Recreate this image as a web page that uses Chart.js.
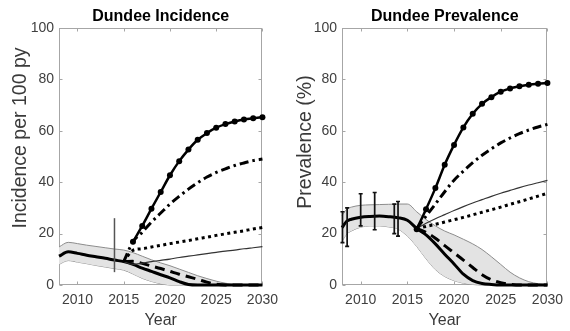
<!DOCTYPE html>
<html><head><meta charset="utf-8">
<script src="https://cdn.jsdelivr.net/npm/chart.js@4.4.1/dist/chart.umd.min.js"></script>
<style>
html,body{margin:0;padding:0;background:#fff;width:570px;height:331px;overflow:hidden}
canvas{position:absolute;top:0}
#c1{left:0}
#c2{left:285px}
</style></head><body>
<canvas id="c1" width="285" height="331"></canvas>
<canvas id="c2" width="285" height="331"></canvas>
<script>
// ---------- shared ticks ----------
const xTickValues = [2010, 2015, 2020, 2025, 2030];
const yTickValues = [0, 20, 40, 60, 80, 100];

// ---------- Incidence ----------
const incYears = [2008,2009,2010,2011,2012,2013,2014,2015,2016,2017,2018,2019,2020,2021,2022,2023,2024,2025,2026,2027,2028,2029,2030];
const incBase  = [11.2,12.9,12.3,11.6,11.0,10.4,9.7,9.1,8.0,6.6,5.3,4.0,2.8,1.3,0.2,0,0,0,0,0,0,0,0];
const incUpper = [14.8,16.6,16.1,15.5,15.0,14.5,14.0,13.6,12.6,11.2,9.8,8.6,7.5,6.2,4.9,3.6,2.5,1.5,0.7,0.2,0,0,0];
const incLower = [8.0,9.5,8.9,8.3,7.6,7.0,6.4,5.8,4.3,2.6,1.4,0.5,0,0,0,0,0,0,0,0,0,0,0];
const incScenYears = [2015,2016,2017,2018,2019,2020,2021,2022,2023,2024,2025,2026,2027,2028,2029,2030];
const incDashed  = [9.1,9.2,8.4,7.4,6.4,5.3,4.2,3.2,2.2,1.1,0.3,0,0,0,0,0];
const incThin    = [9.1,8.0,8.5,9.1,9.6,10.1,10.7,11.2,11.7,12.2,12.7,13.2,13.6,14.1,14.5,14.9];
const incDotted  = [9.1,13.5,14.1,14.8,15.4,16.1,16.7,17.3,18.0,18.6,19.3,19.9,20.5,21.1,21.8,22.4];
const incDashDot = [9.1,16.8,20.5,24.5,28.0,31.5,34.5,37.3,39.8,42.0,43.8,45.2,46.5,47.5,48.4,49.0];
const incMarkYears = [2016,2017,2018,2019,2020,2021,2022,2023,2024,2025,2026,2027,2028,2029,2030];
const incMarked  = [16.8,23.0,29.7,36.2,42.7,48.2,52.7,56.5,59.1,61.2,62.6,63.6,64.4,64.9,65.3];
const incErrX  = [2014];
const incErrLo = [5];
const incErrHi = [26];

// ---------- Prevalence ----------
const prevYears = [2008,2008.5,2009,2010,2011,2012,2013,2014,2015,2016,2017,2018,2019,2020,2021,2022,2023,2024,2025,2026,2027,2028,2029,2030];
const prevBase  = [22.3,24.8,25.6,26.4,26.7,26.8,26.6,26.2,25.2,22.0,19.5,16.0,12.0,8.2,4.2,1.7,0.6,0.2,0,0,0,0,0,0];
const prevUpper = [27.0,29.5,30.3,31.0,31.2,31.3,31.4,31.5,31.5,28.5,25.5,23.0,21.0,19.5,17.8,16.0,13.8,11.0,8.0,5.0,2.8,1.3,0.5,0.2];
const prevLower = [17.0,19.8,21.0,22.5,23.0,23.0,22.6,21.8,19.0,15.0,10.2,6.0,3.3,1.7,0.7,0.2,0,0,0,0,0,0,0,0];
const prevScenYears = [2016,2017,2018,2019,2020,2021,2022,2023,2024,2025,2026,2027,2028,2029,2030];
const prevDashed  = [22.0,20.5,18.2,15.3,12.5,9.7,6.8,4.0,2.0,0.9,0.3,0,0,0,0];
const prevThin    = [22.0,24.0,25.8,27.4,29.0,30.5,31.9,33.2,34.5,35.7,36.8,37.9,38.9,39.8,40.7];
const prevDotted  = [22.0,22.8,23.6,24.5,25.4,26.3,27.3,28.3,29.3,30.3,31.4,32.4,33.5,34.6,35.7];
const prevDashDot = [22.0,26.8,31.5,36.3,40.8,44.3,47.6,50.5,53.0,55.3,57.2,58.9,60.3,61.5,62.5];
const prevMarked  = [21.7,29.5,37.7,46.8,54.5,61.3,66.6,70.5,73.1,75.2,76.5,77.3,77.9,78.3,78.6];
const prevErrX  = [2008.05,2008.55,2010,2011.5,2013.6,2014.0];
const prevErrLo = [16.5,15.0,23.0,21.5,20.0,19.0];
const prevErrHi = [28.5,30.0,35.5,36.0,31.5,32.5];

const FONT = '"Liberation Sans", Arial, sans-serif';

function pts(xs, ys) { return xs.map((x, i) => ({ x: x, y: ys[i] })); }

const matlabPlugin = {
  id: 'matlab',
  beforeDatasetsDraw(chart, args, o) {
    const ctx = chart.ctx, a = chart.chartArea, xs = chart.scales.x, ys = chart.scales.y;
    ctx.save();
    ctx.strokeStyle = '#a6a6a6';
    ctx.lineWidth = 1;
    const L = Math.round(a.left) + 0.5, R = Math.round(a.right) - 0.5;
    const T = Math.round(a.top) + 0.5, B = Math.round(a.bottom) - 0.5;
    ctx.strokeRect(L, T, R - L, B - T);
    ctx.beginPath();
    const tl = 3;
    xs.ticks.forEach(t => {
      const px = Math.round(xs.getPixelForValue(t.value)) + 0.5;
      ctx.moveTo(px, B); ctx.lineTo(px, B - tl);
      ctx.moveTo(px, T); ctx.lineTo(px, T + tl);
    });
    ys.ticks.forEach(t => {
      const py = Math.round(ys.getPixelForValue(t.value)) + 0.5;
      ctx.moveTo(L, py); ctx.lineTo(L + tl, py);
      ctx.moveTo(R, py); ctx.lineTo(R - tl, py);
    });
    ctx.stroke();
    ctx.restore();
  },
  afterDatasetsDraw(chart, args, o) {
    const ctx = chart.ctx, xs = chart.scales.x, ys = chart.scales.y;
    ctx.save();
    ctx.strokeStyle = o.errColor;
    ctx.lineWidth = o.errWidth;
    ctx.beginPath();
    o.errX.forEach((xv, i) => {
      const px = xs.getPixelForValue(xv);
      const p1 = ys.getPixelForValue(o.errLo[i]), p2 = ys.getPixelForValue(o.errHi[i]);
      ctx.moveTo(px, p1); ctx.lineTo(px, p2);
      if (o.cap > 0) {
        ctx.moveTo(px - o.cap, p1); ctx.lineTo(px + o.cap, p1);
        ctx.moveTo(px - o.cap, p2); ctx.lineTo(px + o.cap, p2);
      }
    });
    ctx.stroke();
    ctx.restore();
  },
  afterDraw(chart, args, o) {
    const ctx = chart.ctx, a = chart.chartArea;
    const cx = (a.left + a.right) / 2;
    ctx.save();
    ctx.fillStyle = '#000';
    ctx.font = 'bold 16px ' + FONT;
    ctx.textAlign = 'center';
    ctx.textBaseline = 'alphabetic';
    ctx.fillText(o.title, cx, 21);
    ctx.fillStyle = '#3a3a3a';
    ctx.font = '16px ' + FONT;
    ctx.fillText(o.xTitle, cx, 325);
    ctx.translate(o.yTitleX, o.yTitleY);
    ctx.rotate(-Math.PI / 2);
    ctx.font = '19.5px ' + FONT;
    ctx.fillText(o.yTitle, 0, 0);
    ctx.restore();
  }
};

function lineDs(data, opts) {
  return Object.assign({
    data: data, borderColor: '#000', backgroundColor: '#000', borderWidth: 3,
    pointRadius: 0, fill: false, cubicInterpolationMode: 'monotone', clip: false,
    borderCapStyle: 'butt', borderJoinStyle: 'round'
  }, opts || {});
}

function makeChart(id, d) {
  const datasets = [
    lineDs(pts(d.markYears, d.marked), { borderWidth: 2.5, pointRadius: 3, pointBackgroundColor: '#000', pointBorderColor: '#000', pointBorderWidth: 0 }),
    lineDs(pts(d.scenYears, d.dashDot), { borderDash: [9, 4, 2.5, 4] }),
    lineDs(pts(d.scenYears, d.dotted), { borderDash: [3, 3.5] }),
    lineDs(pts(d.scenYears, d.thin), { borderWidth: 1.2, borderColor: '#333' }),
    lineDs(pts(d.scenYears, d.dashed), { borderDash: [10, 6] }),
    lineDs(pts(d.years, d.base), { borderWidth: 3 }),
    lineDs(pts(d.years, d.upper), { borderWidth: 1, borderColor: '#8c8c8c', fill: '+1', backgroundColor: '#e3e3e3' }),
    lineDs(pts(d.years, d.lower), { borderWidth: 1, borderColor: '#8c8c8c' })
  ];
  return new Chart(document.getElementById(id), {
    type: 'line',
    data: { datasets: datasets },
    options: {
      responsive: false, animation: false, devicePixelRatio: 1,
      layout: { padding: { left: 0, right: d.padRight, top: 28, bottom: 0 } },
      plugins: {
        legend: { display: false }, tooltip: { enabled: false }, title: { display: false },
        matlab: {
          title: d.title, xTitle: 'Year', yTitle: d.yTitle, yTitleX: 25.5, yTitleY: d.yTitleY,
          errX: d.errX, errLo: d.errLo, errHi: d.errHi, errColor: d.errColor, errWidth: d.errWidth, cap: d.cap
        }
      },
      scales: {
        x: {
          type: 'linear', min: 2008, max: 2030,
          grid: { display: false, drawTicks: false }, border: { display: false },
          afterBuildTicks: s => { s.ticks = xTickValues.map(v => ({ value: v })); },
          afterFit: s => { s.height = 46; },
          ticks: { font: { family: FONT, size: 14 }, color: '#404040', padding: 7, maxRotation: 0, autoSkip: false, callback: v => String(v) }
        },
        y: {
          type: 'linear', min: 0, max: 100,
          grid: { display: false, drawTicks: false }, border: { display: false },
          afterBuildTicks: s => { s.ticks = yTickValues.map(v => ({ value: v })); },
          afterFit: s => { s.width = d.yAxisWidth; },
          ticks: { font: { family: FONT, size: 14 }, color: '#404040', padding: 5, callback: v => String(v) }
        }
      }
    },
    plugins: [matlabPlugin]
  });
}

makeChart('c1', {
  title: 'Dundee Incidence', yTitle: 'Incidence per 100 py', yTitleY: 138,
  years: incYears, base: incBase, upper: incUpper, lower: incLower,
  scenYears: incScenYears, dashed: incDashed, thin: incThin, dotted: incDotted, dashDot: incDashDot,
  markYears: incMarkYears, marked: incMarked,
  errX: incErrX, errLo: incErrLo, errHi: incErrHi, errColor: '#555', errWidth: 1.5, cap: 0,
  padRight: 17, yAxisWidth: 59
});
makeChart('c2', {
  title: 'Dundee Prevalence', yTitle: 'Prevalence (%)', yTitleY: 142,
  years: prevYears, base: prevBase, upper: prevUpper, lower: prevLower,
  scenYears: prevScenYears, dashed: prevDashed, thin: prevThin, dotted: prevDotted, dashDot: prevDashDot,
  markYears: prevScenYears, marked: prevMarked,
  errX: prevErrX, errLo: prevErrLo, errHi: prevErrHi, errColor: '#111', errWidth: 1.7, cap: 2,
  padRight: 18, yAxisWidth: 57
});
</script>
</body></html>
